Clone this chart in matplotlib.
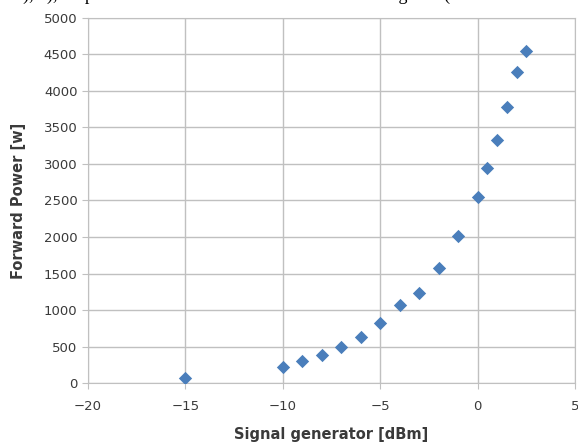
import matplotlib.pyplot as plt

# signal generator level [dBm] vs forward power [W]
signal_dbm = [-15, -10, -9, -8, -7, -6, -5, -4, -3, -2, -1, 0, 0.5, 1, 1.5, 2, 2.5]
forward_w = [70, 225, 300, 390, 495, 635, 825, 1075, 1240, 1575, 2020, 2550, 2940, 3330, 3775, 4260, 4545]

x_ticks = [-20, -15, -10, -5, 0, 5]
y_ticks = list(range(0, 5001, 500))

grid_color = '#c0c0c0'
text_color = '#3a3a3a'

fig = plt.figure(figsize=(5.78, 4.46), dpi=100)
ax = fig.add_axes([0.152, 0.141, 0.843, 0.819])

ax.scatter(signal_dbm, forward_w, marker='D', s=46, color='#4a7ebb', zorder=3, linewidths=0)

ax.set_xlim(-20, 5)
ax.set_ylim(0, 5000)
ax.set_xticks(x_ticks)
ax.set_yticks(y_ticks)
ax.grid(True, color=grid_color, linewidth=1.0)
ax.set_axisbelow(True)

for s in ax.spines.values():
    s.set_color(grid_color)
ax.tick_params(axis='both', colors=grid_color, labelcolor=text_color, labelsize=9.5, length=4)
ax.tick_params(axis='x', pad=8)

ax.set_xlabel('Signal generator [dBm]', fontsize=10.5, fontweight='bold', color=text_color, labelpad=10)
ax.set_ylabel('Forward Power [w]', fontsize=10.5, fontweight='bold', color=text_color, labelpad=13)

# clipped line of body text above the chart, as in the page scan
fig.text(0.01, 1.012, 'ed), 8), output of each. The test results are shown in Figure 5(',
         fontsize=13, family='Liberation Serif', va='center', ha='left')

fig.savefig('out.png', dpi=100)
